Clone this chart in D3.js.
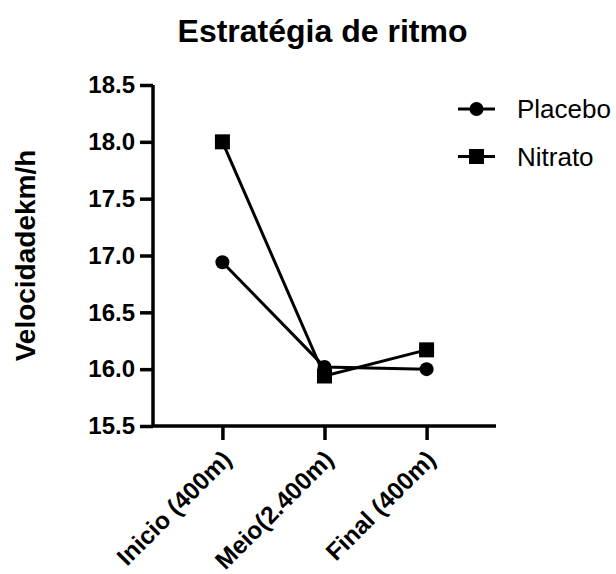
<!DOCTYPE html>
<html>
<head>
<meta charset="utf-8">
<script src="https://cdn.jsdelivr.net/npm/d3@7"></script>
<style>
  body { margin: 0; background: #fff; }
  text { font-family: "Liberation Sans", Arial, sans-serif; fill: #000; }
</style>
</head>
<body>
<svg id="chart"></svg>
<script>
// Data
const categories = ["Inicio (400m)", "Meio(2.400m)", "Final (400m)"];
const placebo = [16.94, 16.02, 16.0];
const nitrato = [18.0, 15.94, 16.17];
const seriesNames = ["Placebo", "Nitrato"];
const yTicks = [15.5, 16.0, 16.5, 17.0, 17.5, 18.0, 18.5];

const W = 616, H = 574;
const margin = {top: 85, right: 120, bottom: 148, left: 153};
const width = W - margin.left - margin.right,
    height = H - margin.top - margin.bottom;

const svg = d3.select("#chart")
    .attr("width", W)
    .attr("height", H);

const g = svg.append("g")
    .attr("transform", `translate(${margin.left},${margin.top})`);

// Scales
const x = d3.scalePoint()
    .domain(categories)
    .range([0, width])
    .padding(0.68);

const y = d3.scaleLinear()
    .domain([15.5, 18.5])
    .range([height, 0]);

// Y axis
const yAxis = g.append("g")
    .call(d3.axisLeft(y).tickValues(yTicks).tickFormat(d3.format(".1f")).tickSize(13).tickPadding(5));
yAxis.select(".domain").attr("stroke-width", 3.5).attr("d", `M0,${height}V0`);
yAxis.selectAll(".tick line").attr("stroke-width", 3.5);
yAxis.selectAll(".tick text")
    .style("font-size", "24px").style("font-weight", "bold");

// X axis
const xAxis = g.append("g")
    .attr("transform", `translate(0,${height})`)
    .call(d3.axisBottom(x).tickSize(14).tickSizeOuter(0));
xAxis.select(".domain").attr("stroke-width", 3.5).attr("d", `M0,0H${width}`);
xAxis.selectAll(".tick line").attr("stroke-width", 3.5);
xAxis.selectAll(".tick text")
    .style("font-size", "24.5px").style("font-weight", "bold")
    .attr("text-anchor", "end")
    .attr("dy", null)
    .attr("y", 0)
    .attr("transform", "translate(10,35) rotate(-45)");

// Lines and markers
const line = d3.line()
    .x((d, i) => x(categories[i]))
    .y(d => y(d));

[placebo, nitrato].forEach(vals => {
    g.append("path")
        .datum(vals)
        .attr("d", line)
        .attr("fill", "none")
        .attr("stroke", "#000")
        .attr("stroke-width", 3);
});

g.selectAll(".pt-placebo")
    .data(placebo)
    .join("circle")
    .attr("cx", (d, i) => x(categories[i]))
    .attr("cy", d => y(d))
    .attr("r", 7)
    .attr("fill", "#000");

const sq = 15;
g.selectAll(".pt-nitrato")
    .data(nitrato)
    .join("rect")
    .attr("x", (d, i) => x(categories[i]) - sq / 2)
    .attr("y", d => y(d) - sq / 2)
    .attr("width", sq)
    .attr("height", sq)
    .attr("fill", "#000");

// Title
svg.append("text")
    .attr("x", margin.left + width / 2 - 2)
    .attr("y", 42)
    .attr("text-anchor", "middle")
    .style("font-size", "32px")
    .style("font-weight", "bold")
    .text("Estratégia de ritmo");

// Y label
svg.append("text")
    .attr("transform", `translate(35,${margin.top + height / 2}) rotate(-90)`)
    .attr("text-anchor", "middle")
    .style("font-size", "28px")
    .style("font-weight", "bold")
    .text("Velocidadekm/h");

// Legend
const legend = svg.append("g").attr("transform", "translate(458,109)");
seriesNames.forEach((name, i) => {
    const row = legend.append("g").attr("transform", `translate(0,${i * 47.5})`);
    row.append("line")
        .attr("x1", 0).attr("x2", 37)
        .attr("stroke", "#000").attr("stroke-width", 3);
    if (i === 0) {
        row.append("circle").attr("cx", 18.5).attr("r", 7).attr("fill", "#000");
    } else {
        row.append("rect").attr("x", 18.5 - sq / 2).attr("y", -sq / 2)
            .attr("width", sq).attr("height", sq).attr("fill", "#000");
    }
    row.append("text")
        .attr("x", 59)
        .attr("y", 9)
        .style("font-size", "26px")
        .text(name);
});
</script>
</body>
</html>
